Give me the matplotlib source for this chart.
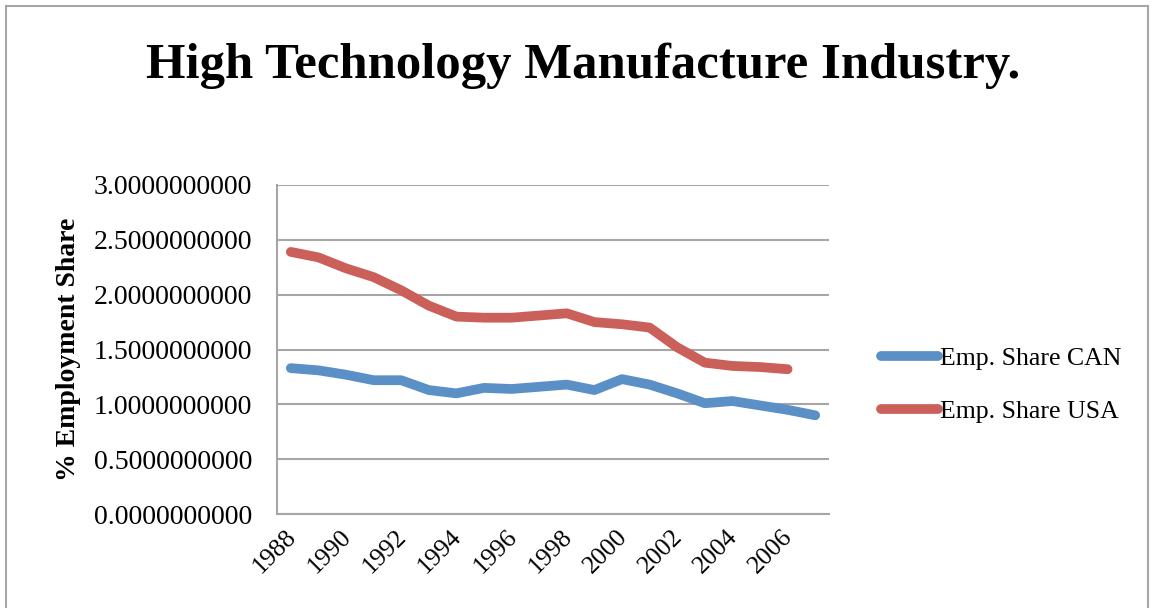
import matplotlib.pyplot as plt
import matplotlib.patches as patches
import matplotlib.transforms as mtransforms
import numpy as np

YEARS = list(range(1988, 2008))
CAN = [1.33, 1.31, 1.27, 1.22, 1.22, 1.13, 1.10, 1.15, 1.14, 1.16,
       1.18, 1.13, 1.23, 1.18, 1.10, 1.01, 1.03, 0.99, 0.95, 0.90]
USA = [2.39, 2.34, 2.24, 2.16, 2.04, 1.90, 1.80, 1.79, 1.79, 1.81,
       1.83, 1.75, 1.73, 1.70, 1.52, 1.38, 1.35, 1.34, 1.32]
YTICKS = [0.0, 0.5, 1.0, 1.5, 2.0, 2.5, 3.0]

SERIF = ['Liberation Serif', 'DejaVu Serif']
GRID = '#A6A6A6'


def plot_graph():
    plt.rcParams['font.family'] = SERIF
    fig = plt.figure(figsize=(11.53, 6.08), dpi=100)
    ax = fig.add_axes([277 / 1153, 94 / 608, 552 / 1153, 329 / 608])

    x = np.arange(len(YEARS))
    ax.plot(x, CAN, color='#5B90C7', linewidth=7, solid_capstyle='round',
            solid_joinstyle='round', label='Emp. Share CAN')
    ax.plot(x[:len(USA)], USA, color='#CB605A', linewidth=7, solid_capstyle='round',
            solid_joinstyle='round', label='Emp. Share USA')

    ax.set_xlim(-0.5, len(YEARS) - 0.5)
    ax.set_ylim(0, 3.0)
    ax.set_yticks(YTICKS)
    ax.set_yticklabels(['%.10f' % v for v in YTICKS], fontsize=20)
    ax.yaxis.grid(True, color=GRID, linewidth=1.5)
    ax.set_axisbelow(True)

    ax.set_xticks(x[::2])
    ax.set_xticklabels([str(y) for y in YEARS[::2]], rotation=45, ha='right',
                       rotation_mode='anchor', fontsize=18.5)
    ax.tick_params(axis='x', length=0, pad=8)
    ax.tick_params(axis='y', length=0, pad=18)
    shift = mtransforms.ScaledTranslation(-6 / 100, 0, fig.dpi_scale_trans)
    for lbl in ax.get_xticklabels():
        lbl.set_transform(lbl.get_transform() + shift)

    for side in ['top', 'right']:
        ax.spines[side].set_visible(False)
    for side in ['left', 'bottom']:
        ax.spines[side].set_color(GRID)
        ax.spines[side].set_linewidth(1.5)

    ax.set_ylabel('% Employment Share', fontsize=20, fontweight='bold', labelpad=9)

    fig.text(583 / 1153, 1 - 66 / 608, 'High Technology Manufacture Industry.',
             ha='center', va='center', fontsize=36.5, fontweight='bold')

    ax.legend(loc='center left', bbox_to_anchor=(858 / 1153, 1 - 385 / 608),
              bbox_transform=fig.transFigure, frameon=False, fontsize=18.5,
              handlelength=2.2, handletextpad=0.1, labelspacing=1.2)

    fig.patches.append(patches.Rectangle((6 / 1153, -0.1), 1142 / 1153, 1.1 - 6 / 608,
                                         transform=fig.transFigure, fill=False,
                                         edgecolor=GRID, linewidth=1.5))

    fig.savefig('out.png', dpi=100)


if __name__ == "__main__":
    plot_graph()
